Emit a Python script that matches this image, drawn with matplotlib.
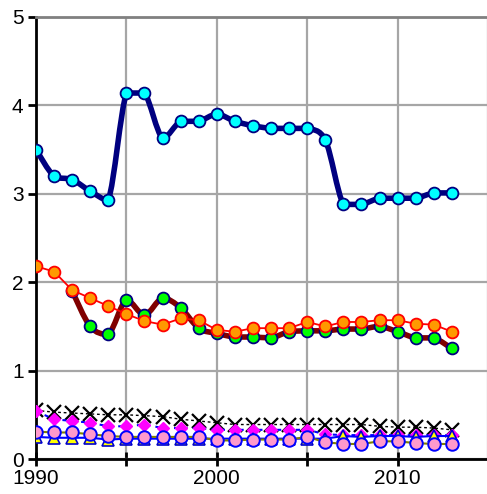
import numpy as np
import matplotlib.pyplot as plt
from matplotlib.path import Path
from matplotlib.patches import PathPatch

plt.rcParams['font.family'] = ['Liberation Sans', 'DejaVu Sans']

years = list(range(1990, 2014))

# navy line, cyan markers
s_navy = [3.50, 3.20, 3.16, 3.03, 2.93, 4.14, 4.14, 3.63, 3.82, 3.82, 3.90, 3.82,
          3.77, 3.74, 3.74, 3.74, 3.61, 2.88, 2.88, 2.95, 2.95, 2.95, 3.01, 3.01]
# dark red line, green markers (starts 1992)
years_green = list(range(1992, 2014))
s_green = [1.90, 1.50, 1.41, 1.80, 1.63, 1.82, 1.71, 1.48, 1.42, 1.38, 1.38, 1.37,
           1.44, 1.45, 1.45, 1.47, 1.47, 1.50, 1.44, 1.37, 1.37, 1.25]
# red line, orange markers
s_orange = [2.18, 2.12, 1.91, 1.82, 1.73, 1.64, 1.56, 1.52, 1.59, 1.57, 1.46, 1.44,
            1.48, 1.48, 1.48, 1.55, 1.50, 1.55, 1.55, 1.57, 1.57, 1.53, 1.52, 1.44]
# black crosses
s_cross = [0.55, 0.53, 0.52, 0.51, 0.50, 0.50, 0.49, 0.48, 0.45, 0.43, 0.41, 0.39,
           0.39, 0.39, 0.39, 0.39, 0.39, 0.39, 0.39, 0.37, 0.36, 0.36, 0.35, 0.33]
# magenta diamonds
s_diamond = [0.54, 0.45, 0.43, 0.41, 0.37, 0.37, 0.39, 0.35, 0.35, 0.35, 0.33, 0.33,
             0.33, 0.33, 0.33, 0.33, 0.28, 0.27, 0.27, 0.27, 0.27, 0.27, 0.27, 0.27]
# yellow triangles
s_tri = [0.25, 0.24, 0.24, 0.24, 0.22, 0.23, 0.23, 0.23, 0.23, 0.23, 0.23, 0.23,
         0.23, 0.23, 0.23, 0.23, 0.23, 0.26, 0.25, 0.26, 0.26, 0.25, 0.26, 0.26]
# pink circles
s_circle = [0.31, 0.30, 0.30, 0.28, 0.26, 0.25, 0.25, 0.25, 0.25, 0.25, 0.21, 0.21,
            0.22, 0.22, 0.22, 0.25, 0.19, 0.17, 0.17, 0.20, 0.20, 0.18, 0.17, 0.17]

x_ticks = [1990, 1995, 2000, 2005, 2010, 2015]
x_labels = ['1990', '', '2000', '', '2010', '']
y_ticks = [0, 1, 2, 3, 4, 5]


def smooth_line(ax, xs, ys, **kw):
    # bezier through the points, like a spreadsheet "smoothed line"
    # control points kept inside each segment's y range so flat runs stay flat
    p = np.column_stack([xs, ys]).astype(float)
    verts = [p[0]]
    codes = [Path.MOVETO]
    n = len(p)
    for i in range(n - 1):
        p0 = p[i - 1] if i > 0 else p[i]
        p3 = p[i + 2] if i + 2 < n else p[i + 1]
        c1 = p[i] + (p[i + 1] - p0) / 6
        c2 = p[i + 1] - (p3 - p[i]) / 6
        lo, hi = sorted([p[i][1], p[i + 1][1]])
        c1[1] = min(max(c1[1], lo), hi)
        c2[1] = min(max(c2[1], lo), hi)
        verts += [c1, c2, p[i + 1]]
        codes += [Path.CURVE4] * 3
    ax.add_patch(PathPatch(Path(verts, codes), fill=False, **kw))


fig = plt.figure(figsize=(4.87, 4.94), dpi=100)
ax = fig.add_axes([36 / 487, 35 / 494, 452 / 487, 442 / 494])

smooth_line(ax, years, s_navy, edgecolor='#000080', lw=4, capstyle='round', joinstyle='round', zorder=3)
ax.plot(years, s_navy, ls='none', marker='o', ms=8.5, mfc='#00ffff', mec='#000080', mew=1.3, zorder=4)

smooth_line(ax, years_green, s_green, edgecolor='#800000', lw=4, capstyle='round', joinstyle='round', zorder=3)
ax.plot(years_green, s_green, ls='none', marker='o', ms=8.5, mfc='#00ff00', mec='#000080', mew=1.3, zorder=4)

ax.plot(years, s_orange, color='#ff0000', lw=1.3, marker='o', ms=8.5, mfc='#ff9900', mec='#ff0000', mew=1.3, zorder=5)

ax.plot(years, s_cross, color='black', lw=1, ls=(0, (2, 2)), marker='x', ms=10, mew=1.6, zorder=6)
ax.plot(years, s_diamond, color='#0000ff', lw=1.5, ls=(0, (2, 2.5)), marker='D', ms=6.5, mfc='#ff00ff', mec='#ff00ff', zorder=7)
ax.plot(years, s_tri, color='#0000ff', lw=1.5, marker='^', ms=8, mfc='#ffff00', mec='#0000cc', mew=1.2, zorder=8)
ax.plot(years, s_circle, color='#808000', lw=1.5, marker='o', ms=9, mfc='#ff99cc', mec='#0000ff', mew=1.4, zorder=9)

ax.set_xlim(1990, 2015)
ax.set_ylim(0, 5)
ax.set_xticks(x_ticks)
ax.set_xticklabels(x_labels)
ax.set_yticks(y_ticks)
ax.grid(True, color='#a6a6a6', lw=1.6, zorder=0)
ax.set_axisbelow(True)

ax.spines['right'].set_visible(False)
ax.spines['top'].set_color('#808080')
ax.spines['top'].set_linewidth(2)
ax.spines['left'].set_linewidth(2)
ax.spines['bottom'].set_linewidth(2)
ax.tick_params(axis='x', direction='inout', length=10, width=2, labelsize=15, pad=2)
ax.tick_params(axis='y', direction='out', length=6, width=2, labelsize=15, pad=3)

fig.savefig('out.png', dpi=100)
